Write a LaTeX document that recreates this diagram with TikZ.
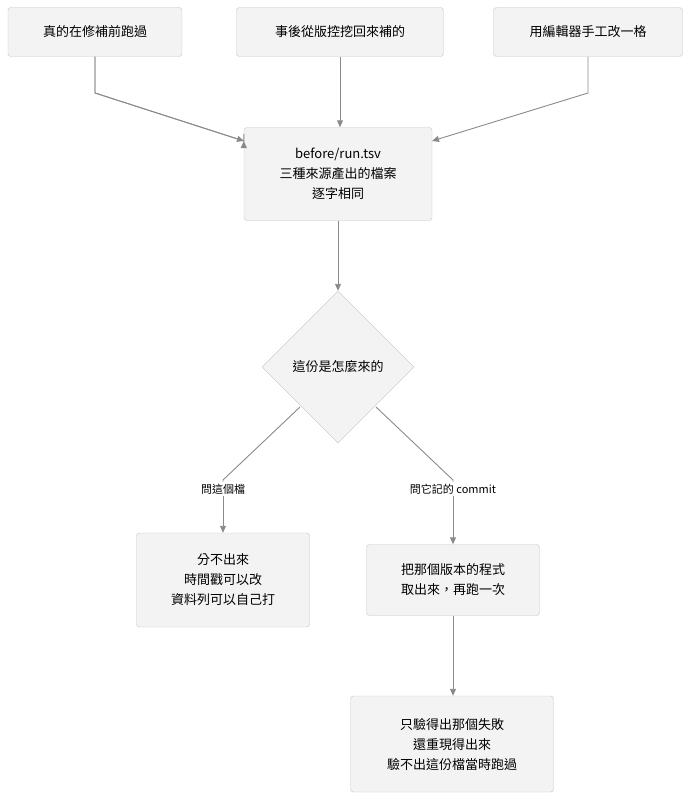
\documentclass[tikz,border=0pt]{standalone}
\usepackage{fontspec}
\setmainfont{Noto Sans CJK TC}
\usetikzlibrary{shapes.geometric,arrows.meta}
\definecolor{bfill}{HTML}{F3F3F3}
\definecolor{bline}{HTML}{C4C4C4}
\definecolor{eline}{HTML}{8A8A8A}
\begin{document}
\begin{tikzpicture}[x=1pt,y=-1pt,
  box/.style={draw=bline,fill=bfill,rounded corners=3pt,align=center,font=\fontsize{13}{20}\selectfont,inner sep=0pt},
  lab/.style={fill=white,font=\fontsize{11}{13}\selectfont,inner sep=2pt},
  arr/.style={draw=eline,line width=0.9pt,-{Triangle[length=7pt,width=6pt]}},
  ln/.style={draw=eline,line width=0.9pt}]
\useasboundingbox (0,0) rectangle (699,808);
\node[box,minimum width=174pt,minimum height=49pt] (a) at (95,32) {真的在修補前跑過};
\node[box,minimum width=207pt,minimum height=49pt] (b) at (340,32) {事後從版控挖回來補的};
\node[box,minimum width=189pt,minimum height=49pt] (c) at (588,32) {用編輯器手工改一格};
\node[box,minimum width=188pt,minimum height=93pt] (m) at (338,174) {before/run.tsv\\三種來源產出的檔案\\逐字相同};
\node[diamond,draw=bline,fill=bfill,minimum width=152pt,minimum height=152pt,inner sep=0pt,font=\fontsize{13}{20}\selectfont] (d) at (338,367) {這份是怎麼來的};
\node[box,minimum width=173pt,minimum height=94pt] (l) at (223,580) {分不出來\\時間戳可以改\\資料列可以自己打};
\node[box,minimum width=173pt,minimum height=71pt] (r) at (453,580) {把那個版本的程式\\取出來，再跑一次};
\node[box,minimum width=203pt,minimum height=96pt] (f) at (452,744) {只驗得出那個失敗\\還重現得出來\\驗不出這份檔當時跑過};
\coordinate (a1) at (95,93);
\coordinate (c1) at (588,93);
\draw[arr] (a.south) -- (a1) -- (m.north west |- 0,141) -- ++(0,0);
\draw[arr] (a.south) -- (a1) -- (244,141);
\draw[arr] (b.south) -- (b.south |- m.north);
\draw[arr] (c.south) -- (c1) -- (432,141);
\draw[arr] (m.south) -- (d.north);
\node[lab] (ll) at (223,489) {問這個檔};
\node[lab] (rl) at (453,489) {問它記的 commit};
\draw[ln] (300,407) -- (223,480) -- (ll.north);
\draw[arr] (ll.south) -- (l.north);
\draw[ln] (376,407) -- (453,480) -- (rl.north);
\draw[arr] (rl.south) -- (r.north);
\draw[arr] (r.south) -- (r.south |- f.north);
\end{tikzpicture}
\end{document}
